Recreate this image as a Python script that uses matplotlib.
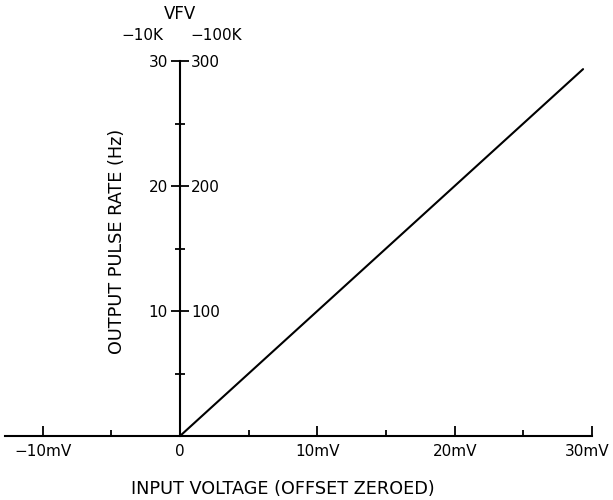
import matplotlib
matplotlib.use('Agg')
import matplotlib.pyplot as plt
from matplotlib.transforms import ScaledTranslation

# values
input_mv = [0, 29.35]
rate_hz = [0, 29.35]

x_major = [-10, 0, 10, 20, 30]
x_minor = [-5, 5, 15, 25]
x_labels = ['\u221210mV', '0', '10mV', '20mV', '30mV']
y_major = [10, 20, 30]
y_minor = [5, 15, 25]
y_labels_10k = ['10', '20', '30']
y_major_100k = [100, 200, 300]
y_labels_100k = ['100', '200', '300']

plt.rcParams['font.family'] = ['DejaVu Sans']
plt.rcParams['font.size'] = 11

fig = plt.figure(figsize=(6.13, 5.0), dpi=100)
ax = fig.add_axes([0, 0, 1, 1])
ax.patch.set_visible(False)

ax.plot(input_mv, rate_hz, color='black', lw=1.5, solid_capstyle='round')

ax.set_xlim(-13.107, 31.53)
ax.set_ylim(-5.12, 34.88)

# axes cross at the origin
for s in ['top', 'right']:
    ax.spines[s].set_visible(False)
ax.spines['left'].set_position(('data', 0))
ax.spines['bottom'].set_position(('data', 0))
ax.spines['left'].set_bounds(0, 30)
ax.spines['bottom'].set_bounds(-12.74, 30)
ax.spines['left'].set_linewidth(1.5)
ax.spines['bottom'].set_linewidth(1.5)

ax.set_xticks(x_major)
ax.set_xticks(x_minor, minor=True)
ax.set_xticklabels(x_labels)
ax.set_yticks(y_major)
ax.set_yticks(y_minor, minor=True)
ax.set_yticklabels(y_labels_10k)

ax.tick_params(axis='x', which='major', direction='in', length=7, width=1.3, pad=6)
ax.tick_params(axis='x', which='minor', direction='in', length=4.5, width=1.3)
ax.tick_params(axis='y', which='major', direction='inout', length=13.5, width=1.3, pad=2)
ax.tick_params(axis='y', which='minor', direction='inout', length=7, width=1.3)

# last label sits a little left of its tick so it stays on the page
last = ax.get_xticklabels()[-1]
last.set_transform(last.get_transform() + ScaledTranslation(-0.05, 0, fig.dpi_scale_trans))

# second scale (-100K) on the other side of the same axis line
ax2 = ax.twinx()
ax2.set_ylim(-51.2, 348.8)
for s in ['left', 'top', 'bottom', 'right']:
    ax2.spines[s].set_visible(False)
ax2.spines['right'].set_position(('data', 0))
ax2.set_yticks(y_major_100k)
ax2.set_yticklabels(y_labels_100k)
ax2.tick_params(axis='y', length=0, pad=8)

ax.text(0, 33.8, 'VFV', ha='center', va='center', fontsize=12)
ax.text(-1.24, 32.04, '\u221210K', ha='right', va='center')
ax.text(0.73, 32.04, '\u2212100K', ha='left', va='center')

ax.set_ylabel('OUTPUT PULSE RATE (Hz)', fontsize=12.7)
ax.yaxis.set_label_coords(0.205, 0.518)
ax.set_xlabel('INPUT VOLTAGE (OFFSET ZEROED)', fontsize=12.7)
ax.xaxis.set_label_coords(0.462, 0.040)

fig.savefig('out.png', dpi=100)
